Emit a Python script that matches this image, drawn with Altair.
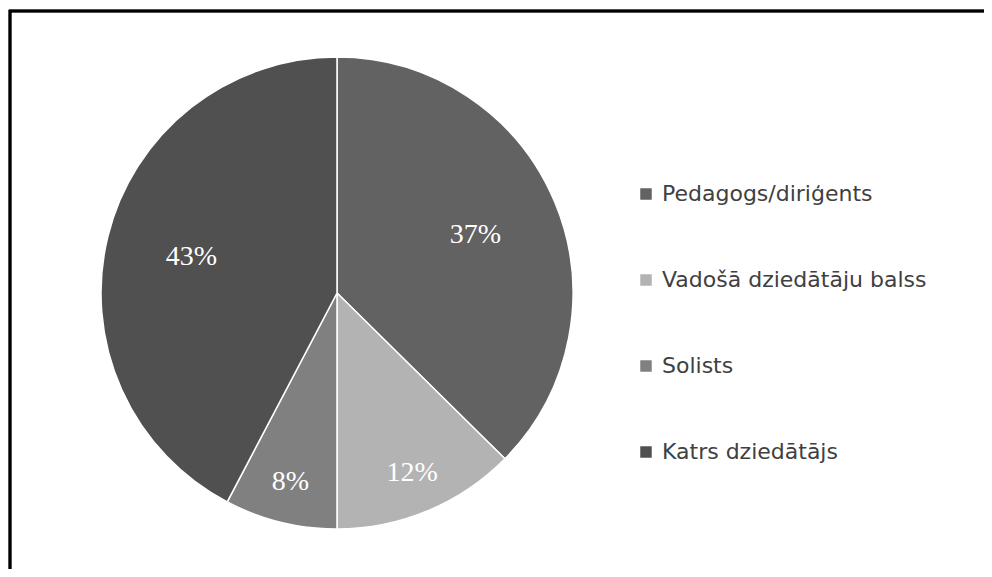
import altair as alt
import pandas as pd

categories = ["Pedagogs/diriģents", "Vadošā dziedātāju balss", "Solists", "Katrs dziedātājs"]
values = [37.4, 12.6, 7.7, 42.3]
labels = ["37%", "12%", "8%", "43%"]
colors = ["#626262", "#b3b3b3", "#808080", "#505050"]

df = pd.DataFrame({
    "cat": categories,
    "val": values,
    "lab": labels,
    "idx": list(range(len(categories))),
})

W, H = 976, 561
CX, CY, R = 328, 285, 236

color = alt.Color(
    "cat:N",
    scale=alt.Scale(domain=categories, range=colors),
    legend=alt.Legend(
        title=None,
        orient="none",
        legendX=626,
        legendY=175,
        symbolType="square",
        symbolSize=132,
        symbolStrokeWidth=0,
        labelFont="DejaVu Sans",
        labelFontSize=22,
        labelColor="#404040",
        labelLimit=0,
        rowPadding=64,
        labelOffset=5,
        padding=0,
    ),
)

theta_scale = alt.Scale(domain=[0, 100])

pie = alt.Chart(df).mark_arc(radius=R, stroke="white", strokeWidth=1.5).encode(
    theta=alt.Theta("val:Q", stack=True, scale=theta_scale),
    order=alt.Order("idx:Q"),
    color=color,
    x=alt.value(CX),
    y=alt.value(CY),
)

text_base = alt.Chart(df).transform_stack(
    stack="val", groupby=[], as_=["v0", "v1"], sort=[alt.SortField("idx")]
).transform_calculate(
    mid="(datum.v0 + datum.v1) / 2"
)

text_big = text_base.transform_filter(alt.datum.val >= 20).mark_text(
    radius=150, font="Liberation Serif", fontSize=28, color="white"
).encode(
    theta=alt.Theta("mid:Q", stack=None, scale=theta_scale),
    text="lab:N", x=alt.value(CX), y=alt.value(CY)
)

text_small = text_base.transform_filter(alt.datum.val < 20).mark_text(
    radius=195, font="Liberation Serif", fontSize=28, color="white"
).encode(
    theta=alt.Theta("mid:Q", stack=None, scale=theta_scale),
    text="lab:N", x=alt.value(CX), y=alt.value(CY)
)

frame = alt.Chart(df).mark_rect(fill=None, stroke="black", strokeWidth=2.5).encode(
    x=alt.value(1), x2=alt.value(W + 40), y=alt.value(3), y2=alt.value(H + 40)
)

chart = alt.layer(pie, text_big, text_small, frame).properties(
    width=W,
    height=H,
    autosize=alt.AutoSizeParams(type="fit", contains="padding"),
    padding=0,
).configure_view(stroke=None)

chart.save("out.html", embed_options={"renderer": "svg", "actions": False})
